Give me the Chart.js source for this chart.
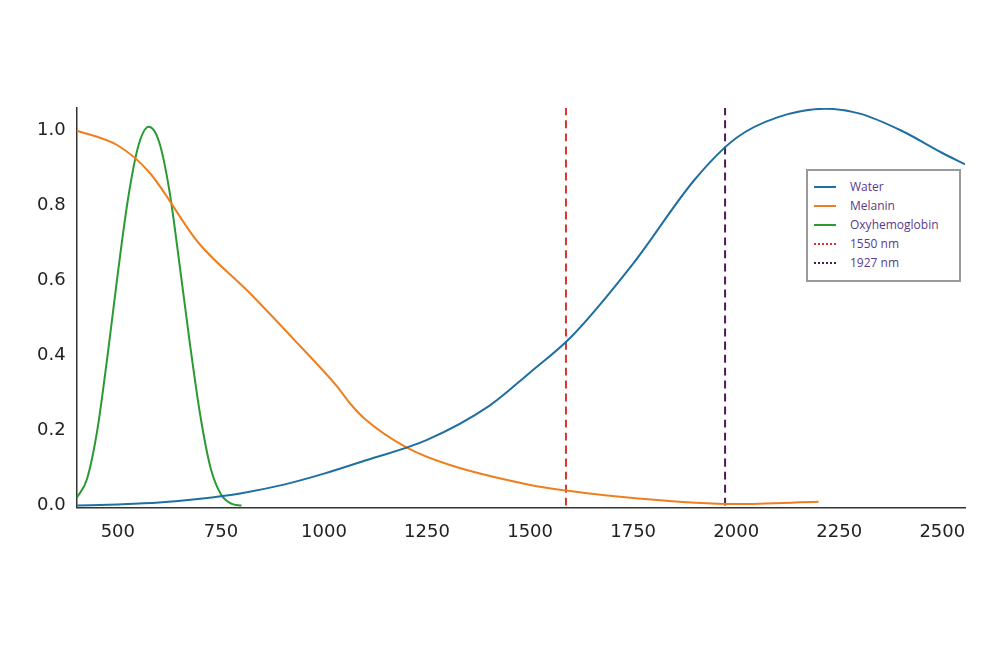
<!DOCTYPE html>
<html>
<head>
<meta charset="utf-8">
<script src="https://cdn.jsdelivr.net/npm/chart.js@4/dist/chart.umd.min.js"></script>
<style>
  body { margin: 0; background: #fff; }
  #wrap { position: relative; width: 1000px; height: 668px; }
  #legend { position: absolute; left: 806px; top: 169px; width: 155px; height: 113px; border: 2px solid #999; background: #fff;
    font-family: "Open Sans", sans-serif; font-size: 12px; color: #5b3a8c; box-sizing: border-box; padding-top: 6px; }
  .row { display: flex; align-items: center; height: 19px; }
  .sw { width: 22px; margin: 0 14px 0 6px; border-top: 2px solid; }
</style>
</head>
<body>
<div id="wrap">
  <canvas id="chart" width="1000" height="668"></canvas>
  <div id="legend"></div>
</div>
<script>
const waterX = [400, 500, 600, 700, 800, 900, 1000, 1100, 1250, 1400, 1500, 1600, 1750, 1900, 2000, 2100, 2216, 2300, 2400, 2500, 2555];
const waterY = [0.0, 0.003, 0.008, 0.018, 0.033, 0.055, 0.085, 0.12, 0.175, 0.265, 0.355, 0.45, 0.645, 0.87, 0.98, 1.035, 1.058, 1.045, 1.0, 0.94, 0.91];
const melaninX = [400, 500, 575, 696, 817, 938, 1030, 1065, 1100, 1200, 1300, 1500, 1587, 1750, 2000, 2200];
const melaninY = [1.0, 0.96, 0.89, 0.70, 0.57, 0.43, 0.32, 0.27, 0.23, 0.155, 0.11, 0.055, 0.04, 0.02, 0.004, 0.01];
const oxyX = [400, 425, 450, 475, 500, 525, 550, 575, 600, 625, 650, 675, 700, 725, 750, 775, 800];
const oxyY = [0.02, 0.07, 0.2, 0.4, 0.62, 0.82, 0.96, 1.01, 0.97, 0.84, 0.64, 0.43, 0.24, 0.1, 0.03, 0.005, 0.0];
const markerX = [1587, 1973];
const xTicks = [500, 750, 1000, 1250, 1500, 1750, 2000, 2250, 2500];
const yTicks = [0.0, 0.2, 0.4, 0.6, 0.8, 1.0];

const pts = (xs, ys) => xs.map((x, i) => ({ x: x, y: ys[i] }));
const line = (label, data, color, dash) => ({
  label: label, data: data, borderColor: color, borderWidth: 2, pointRadius: 0,
  cubicInterpolationMode: "monotone", borderDash: dash || []
});

new Chart(document.getElementById("chart").getContext("2d"), {
  type: "line",
  data: {
    datasets: [
      line("Water", pts(waterX, waterY), "#1f6fa3"),
      line("Melanin", pts(melaninX, melaninY), "#ee7f1e"),
      line("Oxyhemoglobin", pts(oxyX, oxyY), "#2a9a32"),
      line("1550 nm", [{ x: markerX[0], y: 0 }, { x: markerX[0], y: 1.06 }], "#d9332e", [8, 5]),
      line("1927 nm", [{ x: markerX[1], y: 0 }, { x: markerX[1], y: 1.06 }], "#4c1a52", [8, 5])
    ]
  },
  options: {
    responsive: false, animation: false,
    layout: { padding: { left: 34, right: 35, top: 108, bottom: 119 } },
    plugins: { legend: { display: false }, tooltip: { enabled: false } },
    scales: {
      x: {
        type: "linear", min: 400, max: 2555,
        afterBuildTicks: (s) => { s.ticks = xTicks.map(v => ({ value: v })); },
        grid: { display: false }, border: { color: "#333", width: 1.5 },
        ticks: { color: "#222", font: { family: "DejaVu Sans", size: 18 }, padding: 6, callback: v => String(v) }
      },
      y: {
        min: -0.005, max: 1.06,
        afterBuildTicks: (s) => { s.ticks = yTicks.map(v => ({ value: v })); },
        grid: { display: false }, border: { color: "#333", width: 1.5 },
        ticks: { color: "#222", font: { family: "DejaVu Sans", size: 18 }, callback: v => v.toFixed(1) }
      }
    }
  }
});

const legendItems = [["Water", "#1f6fa3", false], ["Melanin", "#ee7f1e", false], ["Oxyhemoglobin", "#2a9a32", false],
  ["1550 nm", "#d9332e", true], ["1927 nm", "#4c1a52", true]];
document.getElementById("legend").innerHTML = legendItems.map(([t, c, d]) =>
  `<div class="row"><span class="sw" style="border-top:2px ${d ? "dotted" : "solid"} ${c}"></span>${t}</div>`).join("");
</script>
</body>
</html>
